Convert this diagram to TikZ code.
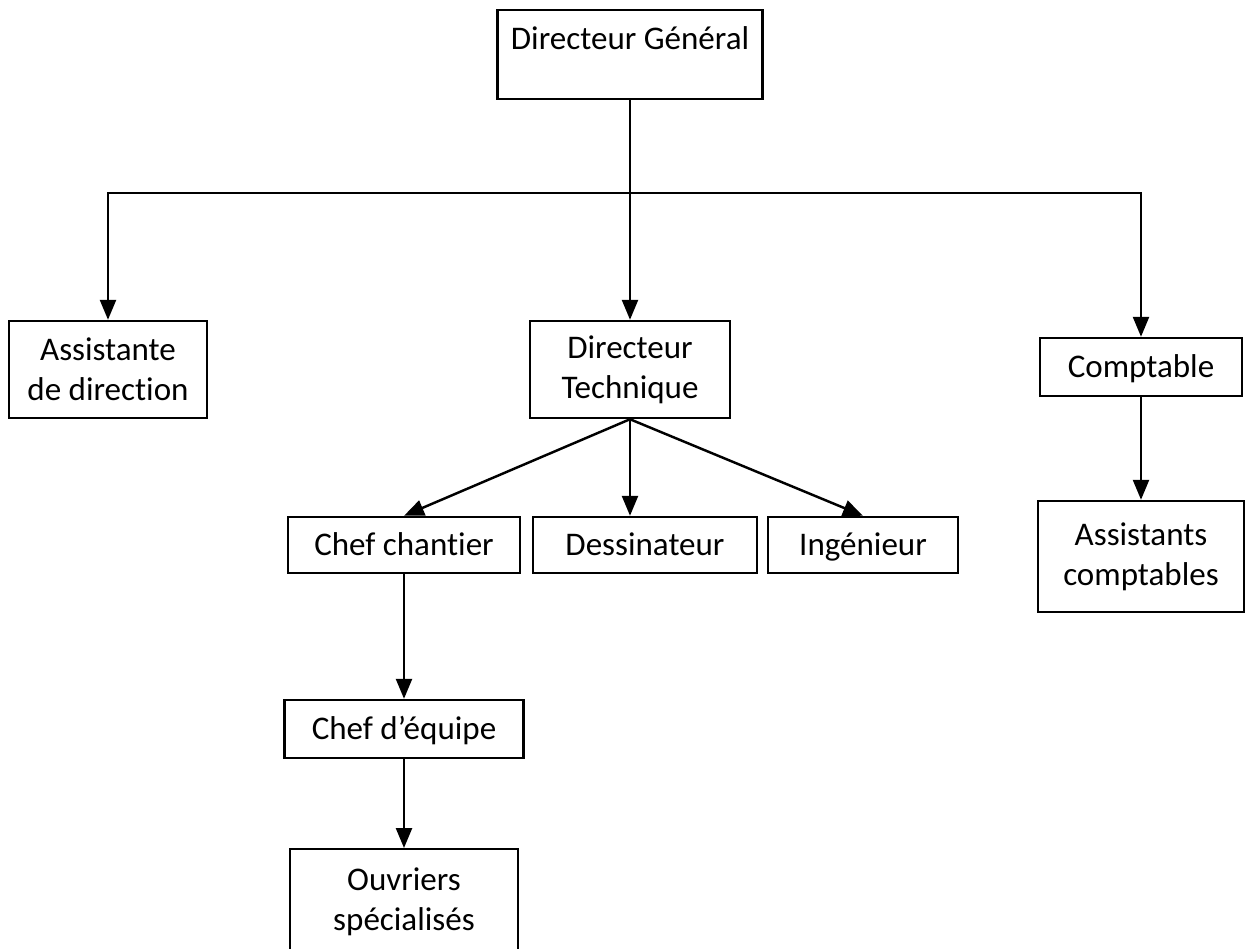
\documentclass[tikz,border=0pt]{standalone}
\usepackage{fontspec}
\setmainfont{Carlito}[Ligatures=NoCommon]
\usepackage{tikz}
\usetikzlibrary{arrows.meta,positioning}

\begin{document}
\begin{tikzpicture}[x=0.02cm,y=-0.02cm,
		box/.style={draw, line width=1.4pt, align=center, inner sep=0pt,
			font=\fontsize{18.8}{22.7}\selectfont},
		oneline/.style={text height=12pt, text depth=0pt},
		arr/.style={line width=1.4pt, -{Triangle[width=0.32cm,length=0.4cm]}}]
		\useasboundingbox (0,0) rectangle (1251,948);
		
		\node[box, anchor=north, minimum width=5.3cm, text height=0.78cm, text depth=1cm] (dg) at (630,9) {Directeur Général};
		\node[box, minimum width=3.96cm, minimum height=1.94cm] (ast) at (108,369.5) {Assistante\\de direction};
		\node[box, minimum width=4cm, minimum height=1.94cm] (dt) at (630,369.5) {Directeur\\Technique};
		\node[box, oneline, minimum width=4.04cm, minimum height=1.16cm] (cpt) at (1141,367) {Comptable};
		\node[box, oneline, minimum width=4.64cm, minimum height=1.12cm] (cc) at (404,545) {Chef chantier};
		\node[box, oneline, minimum width=4.48cm, minimum height=1.12cm] (des) at (645,545) {Dessinateur};
		\node[box, oneline, minimum width=3.8cm, minimum height=1.12cm] (ing) at (863,545) {Ingénieur};
		\node[box, minimum width=4.12cm, minimum height=2.22cm] (acp) at (1141,556.5) {Assistants\\comptables};
		\node[box, oneline, minimum width=4.78cm, minimum height=1.16cm] (ce) at (404,729) {Chef d’équipe};
		\node[box, anchor=north, minimum width=4.56cm, minimum height=2.1cm] (ouv) at (404,848) {Ouvriers\\spécialisés};
		
		\coordinate (bus) at (630,193);
		\draw[arr] (dg.south) -- (dt.north);
		\draw[arr] (bus) -| (ast.north);
		\draw[arr] (bus) -| (cpt.north);
		\draw[arr] (dt.south) -- (cc.north);
		\draw[arr] (dt.south) -- (des.north -| dt.south);
		\draw[arr] (dt.south) -- (ing.north);
		\draw[arr] (cpt.south) -- (acp.north);
		\draw[arr] (cc.south) -- (ce.north);
		\draw[arr] (ce.south) -- (ouv.north);
		
\end{tikzpicture}
\end{document}
